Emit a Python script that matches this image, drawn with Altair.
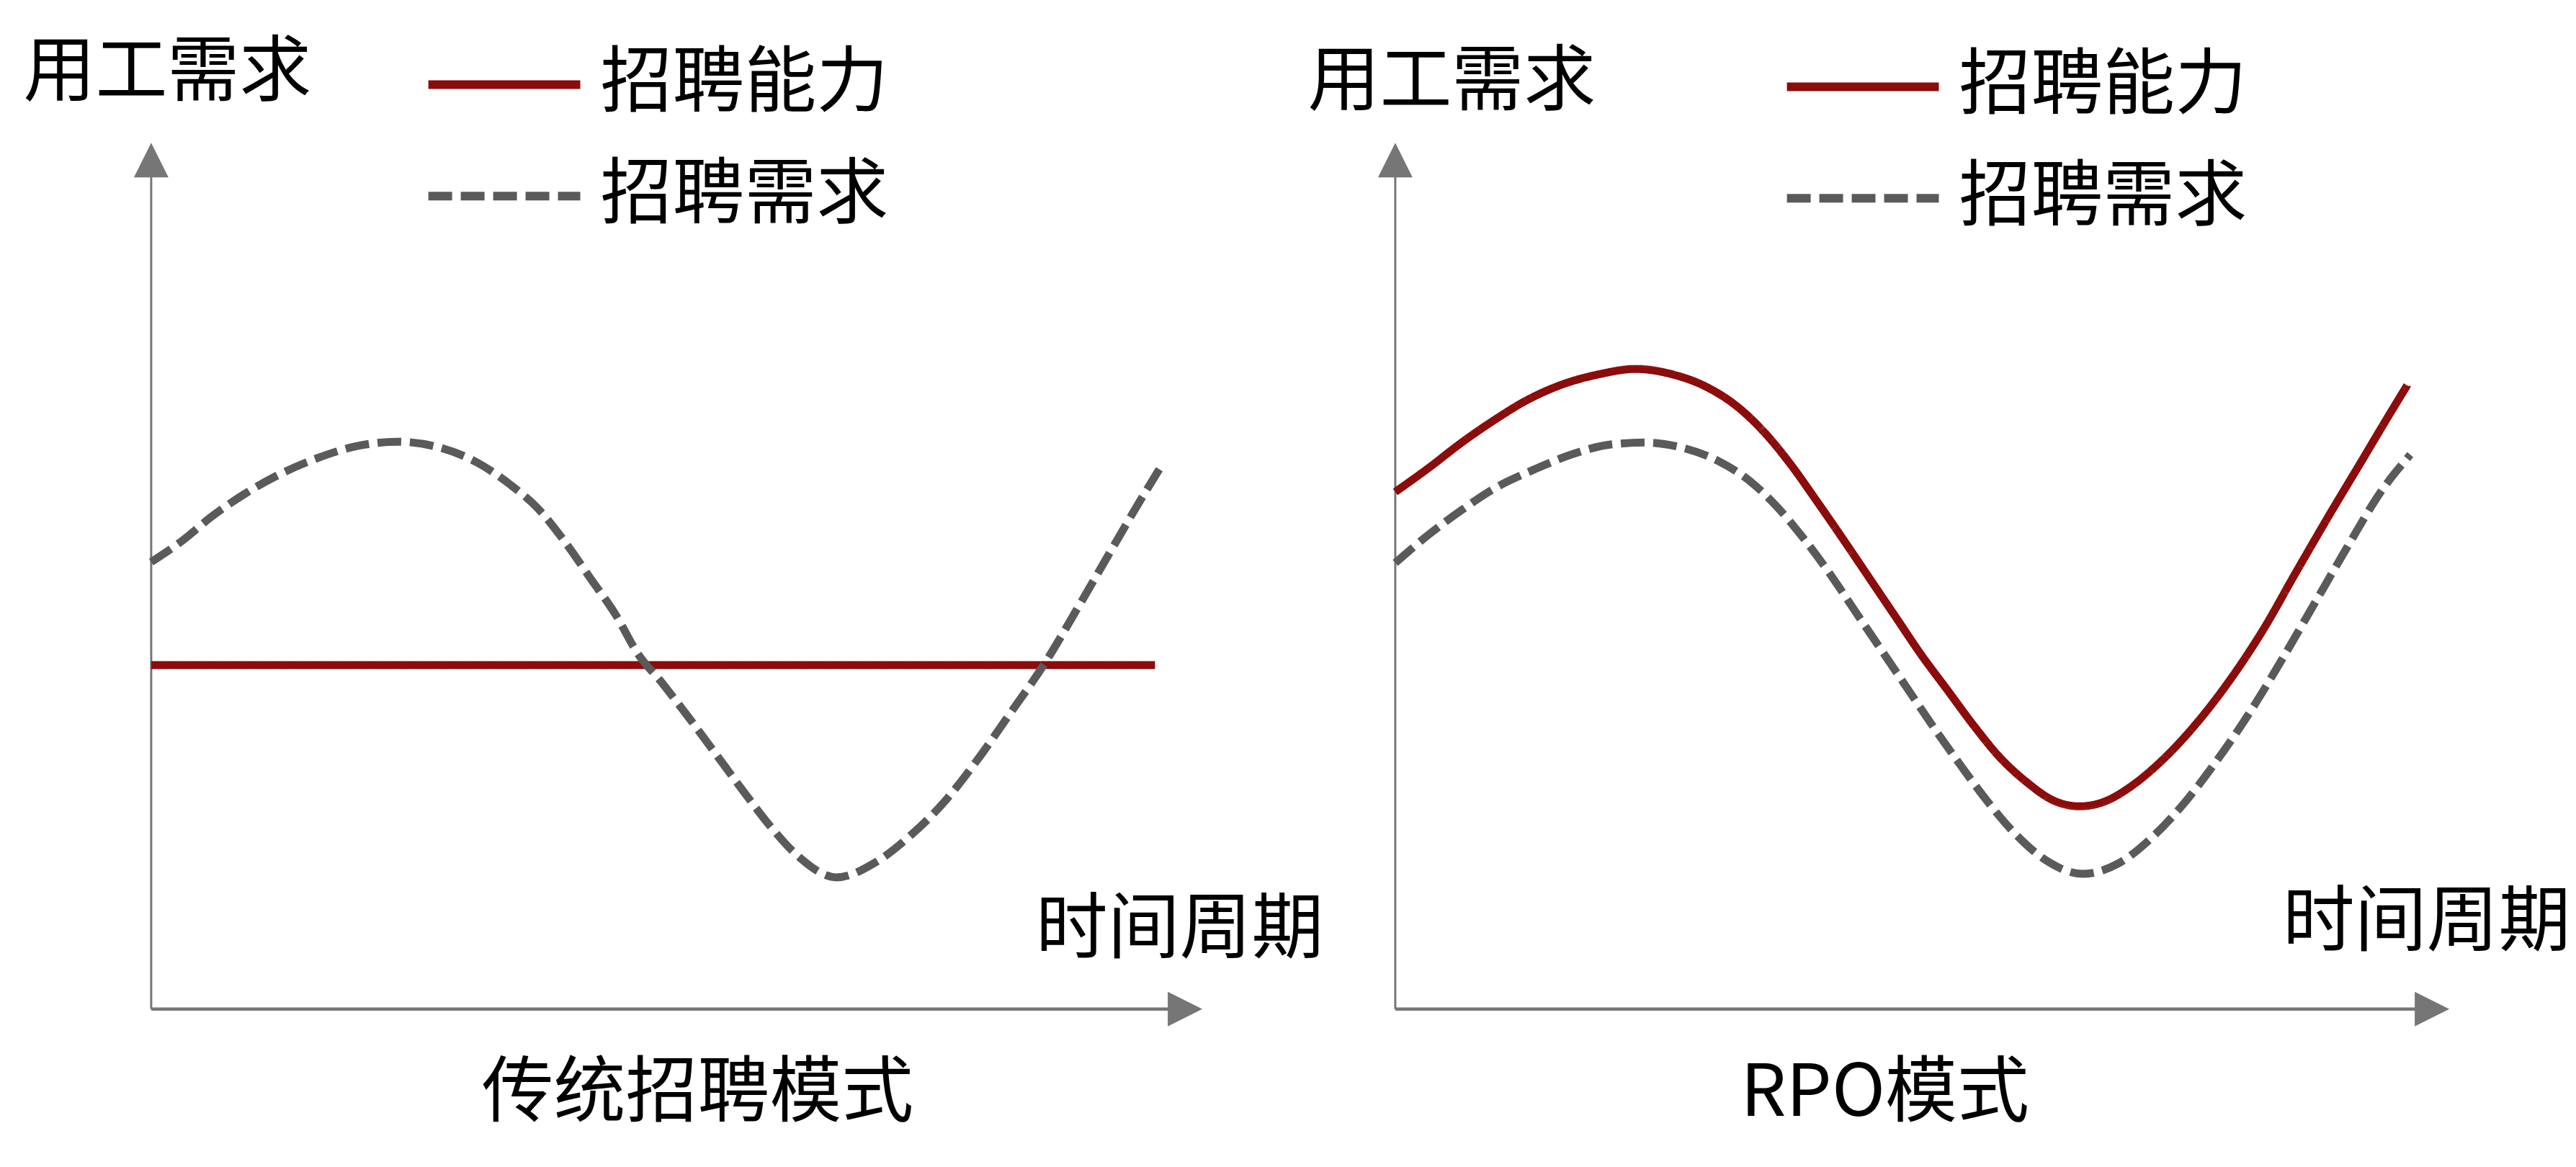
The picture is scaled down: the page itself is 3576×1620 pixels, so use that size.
import altair as alt
import pandas as pd

FONT = "Noto Sans CJK SC"
RED = "#8C0B0B"
GRAY = "#5A5A5A"
AXIS_COLOR = "#767676"
SERIES = ["招聘能力", "招聘需求"]
X_TITLE = "时间周期"
Y_TITLE = "用工需求"
PANEL_TITLES = ["传统招聘模式", "RPO模式"]

# ---- left panel: 传统招聘模式 (time 0-100, demand 0-100) ----
trad_cap_t = [0, 95.5]
trad_cap_v = [39.7, 39.7]
trad_dem_t = [0, 3.1, 5.7, 8.8, 12.0, 15.8, 19.6, 23.4, 27.2, 31.0, 34.2, 36.7, 39.2,
              41.8, 44.3, 46.2, 48.7, 51.3, 53.8, 56.3, 58.9, 61.4, 65.2, 69.0, 72.2,
              75.3, 78.5, 81.7, 84.9, 88.0, 91.2, 93.7, 96.3]
trad_dem_v = [51.6, 54.2, 56.8, 59.4, 61.6, 63.6, 65.0, 65.5, 64.9, 63.1, 60.5, 57.9, 54.2,
              49.7, 45.3, 41.2, 37.5, 33.4, 29.3, 25.2, 21.1, 17.8, 15.2, 17.0, 20.0,
              23.7, 28.6, 34.1, 39.7, 46.0, 52.7, 57.9, 63.1]

# ---- right panel: RPO模式 ----
rpo_cap_t = [0, 3.2, 6.3, 9.4, 12.5, 15.6, 19.4, 22.8, 26.2, 29.4, 32.5, 35.0, 37.5,
             39.9, 42.4, 44.9, 47.4, 49.9, 52.4, 54.9, 57.4, 59.9, 62.4, 64.9, 67.4,
             69.8, 73.0, 76.1, 79.2, 82.3, 85.4, 88.5, 91.7, 94.1, 96.0]
rpo_cap_v = [59.7, 62.5, 65.4, 68.0, 70.3, 72.0, 73.3, 73.9, 73.3, 71.9, 69.5, 66.6, 62.9,
             58.8, 54.4, 49.9, 45.4, 40.9, 36.8, 32.7, 29.0, 26.2, 24.1, 23.4, 24.0,
             25.7, 29.0, 33.1, 38.0, 43.7, 50.3, 56.8, 63.3, 68.2, 72.0]
rpo_dem_t = [0, 3.2, 6.3, 9.4, 13.2, 16.9, 20.6, 23.8, 26.9, 30.6, 33.7, 36.2, 38.7,
             41.2, 43.7, 46.2, 48.7, 51.2, 53.6, 56.1, 58.6, 61.7, 65.2, 68.6, 71.7,
             74.8, 77.9, 81.1, 84.2, 87.3, 90.4, 93.5, 96.3]
rpo_dem_v = [51.5, 54.8, 57.6, 60.1, 62.3, 64.1, 65.2, 65.4, 64.9, 63.3, 60.9, 58.0, 54.4,
             50.3, 45.8, 41.3, 36.8, 32.3, 28.2, 24.1, 20.5, 17.2, 15.6, 16.8, 19.7,
             23.7, 28.6, 34.3, 40.5, 47.0, 53.5, 59.7, 64.0]

AXIS_END = 97.5
ARROW_AT = 100


def make_panel(cap_t, cap_v, dem_t, dem_v, title, title_dx, width,
               y_title_xy, x_title_xy, legend_xy):
    height = 1203
    sx = alt.Scale(domain=[0, 100], nice=False, zero=False)
    sy = alt.Scale(domain=[0, 100], nice=False, zero=False)
    common = dict(domain=False, ticks=False, labels=False, grid=False,
                  titleFont=FONT, titleFontSize=100, titleFontWeight="normal",
                  titleColor="black", titleAngle=0, titleAlign="left",
                  titleBaseline="middle")
    ax = alt.Axis(title=X_TITLE, titleX=x_title_xy[0], titleY=x_title_xy[1], **common)
    ay = alt.Axis(title=Y_TITLE, titleX=y_title_xy[0], titleY=y_title_xy[1], **common)

    def X(f):
        return alt.X(f, type="quantitative", scale=sx, axis=ax)

    def Y(f):
        return alt.Y(f, type="quantitative", scale=sy, axis=ay)

    df = pd.DataFrame({
        "t": list(cap_t) + list(dem_t),
        "v": list(cap_v) + list(dem_v),
        "s": [SERIES[0]] * len(cap_t) + [SERIES[1]] * len(dem_t),
    })
    leg = alt.Legend(title=None, orient="none", legendX=legend_xy[0], legendY=legend_xy[1],
                     symbolType="stroke", symbolSize=44521, symbolStrokeWidth=12,
                     labelFont=FONT, labelFontSize=100, labelColor="black",
                     labelOffset=22, labelLimit=1000, rowPadding=55, clipHeight=100,
                     padding=0)
    lines = alt.Chart(df).mark_line(strokeWidth=11, interpolate="monotone").encode(
        x=X("t"), y=Y("v"),
        color=alt.Color("s:N", scale=alt.Scale(domain=SERIES, range=[RED, GRAY]), legend=leg),
        strokeDash=alt.StrokeDash("s:N", scale=alt.Scale(domain=SERIES, range=[[1, 0], [33, 12]]),
                                  legend=leg),
    )

    hdf = pd.DataFrame({"t": [0], "v": [0], "t2": [AXIS_END]})
    vdf = pd.DataFrame({"t": [0], "v": [0], "v2": [AXIS_END]})
    hrule = alt.Chart(hdf).mark_rule(color=AXIS_COLOR, strokeWidth=4.5).encode(
        x=X("t"), x2=alt.X2("t2"), y=Y("v"))
    vrule = alt.Chart(vdf).mark_rule(color=AXIS_COLOR, strokeWidth=3).encode(
        x=X("t"), y=Y("v"), y2=alt.Y2("v2"))
    adf_r = pd.DataFrame({"t": [ARROW_AT], "v": [0]})
    adf_u = pd.DataFrame({"t": [0], "v": [ARROW_AT]})
    arrow_r = alt.Chart(adf_r).mark_point(shape="M0,0L-1,-0.5L-1,0.5Z", size=9216, filled=True,
                                          opacity=1, color=AXIS_COLOR).encode(x=X("t"), y=Y("v"))
    arrow_u = alt.Chart(adf_u).mark_point(shape="M0,0L-0.5,1L0.5,1Z", size=9216, filled=True,
                                          opacity=1, color=AXIS_COLOR).encode(x=X("t"), y=Y("v"))

    return alt.layer(hrule, vrule, arrow_r, arrow_u, lines).properties(
        width=width, height=height,
        title=alt.TitleParams(text=title, orient="bottom", anchor="middle", fontSize=100,
                              font=FONT, fontWeight="normal", color="black",
                              offset=45, dx=title_dx),
    )


left = make_panel(trad_cap_t, trad_cap_v, trad_dem_t, trad_dem_v, PANEL_TITLES[0], 29, 1460,
                  (-178, -97), (1228, -109), (379, -131))
right = make_panel(rpo_cap_t, rpo_cap_v, rpo_dem_t, rpo_dem_v, PANEL_TITLES[1], -52, 1464,
                   (-122, -84), (1232, -119), (538, -128))

chart = alt.hconcat(left, right, spacing=268, bounds="flush").resolve_scale(
    color="independent", strokeDash="independent"
).resolve_legend(color="independent", strokeDash="independent").properties(
    padding={"left": 24, "top": 43, "right": 0, "bottom": 14},
    background="white",
).configure_view(stroke=None, strokeWidth=0)

chart.save("out.html", embed_options={"renderer": "svg", "actions": False})
